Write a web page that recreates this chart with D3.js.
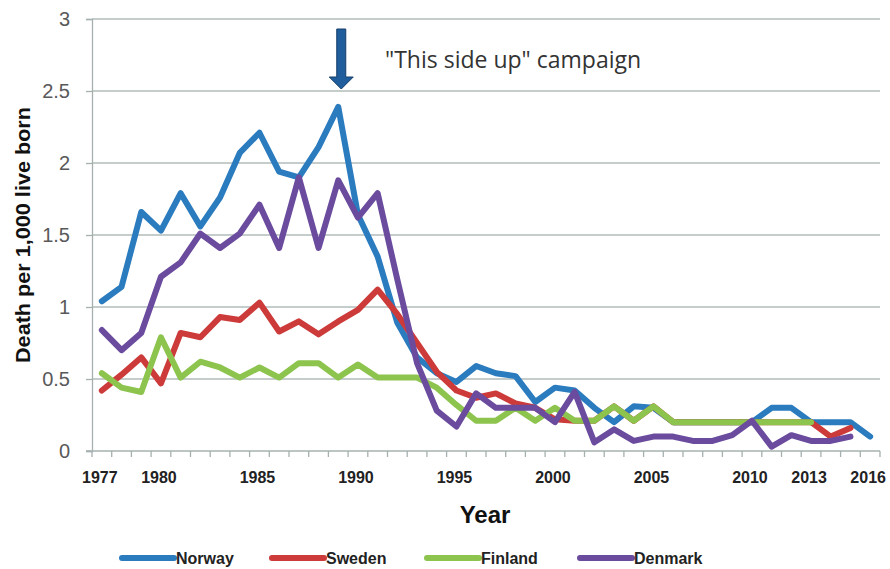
<!DOCTYPE html>
<html>
<head>
<meta charset="utf-8">
<script src="https://cdn.jsdelivr.net/npm/d3@7"></script>
<style>
  body { margin: 0; background: #ffffff; }
  svg { display: block; }
</style>
</head>
<body>
<svg id="svg"></svg>
<script>
const years = [1977, 1978, 1979, 1980, 1981, 1982, 1983, 1984, 1985, 1986,
  1987, 1988, 1989, 1990, 1991, 1992, 1993, 1994, 1995, 1996,
  1997, 1998, 1999, 2000, 2001, 2002, 2003, 2004, 2005, 2006,
  2007, 2008, 2009, 2010, 2011, 2012, 2013, 2014, 2015, 2016]
const yearLabels = [1977, 1980, 1985, 1990, 1995, 2000, 2005, 2010, 2013, 2016]
const yTicks = [0, 0.5, 1, 1.5, 2, 2.5, 3]

const norway = [1.04, 1.14, 1.66, 1.53, 1.79, 1.56, 1.76, 2.07, 2.21, 1.94,
  1.90, 2.11, 2.39, 1.64, 1.35, 0.89, 0.65, 0.54, 0.48, 0.59,
  0.54, 0.52, 0.34, 0.44, 0.42, 0.30, 0.20, 0.31, 0.30, 0.20,
  0.20, 0.20, 0.20, 0.20, 0.30, 0.30, 0.20, 0.20, 0.20, 0.10]
const sweden = [0.42, 0.53, 0.65, 0.47, 0.82, 0.79, 0.93, 0.91, 1.03, 0.83,
  0.90, 0.81, 0.90, 0.98, 1.12, 0.95, 0.75, 0.55, 0.42, 0.37,
  0.40, 0.33, 0.30, 0.22, 0.21, 0.21, 0.31, 0.21, 0.31, 0.20,
  0.20, 0.20, 0.20, 0.20, 0.20, 0.20, 0.20, 0.10, 0.16, null]
const finland = [0.54, 0.44, 0.41, 0.79, 0.51, 0.62, 0.58, 0.51, 0.58, 0.51,
  0.61, 0.61, 0.51, 0.60, 0.51, 0.51, 0.51, 0.44, 0.32, 0.21,
  0.21, 0.30, 0.21, 0.30, 0.21, 0.21, 0.31, 0.21, 0.31, 0.20,
  0.20, 0.20, 0.20, 0.20, 0.20, 0.20, 0.20, null, null, null]
const denmark = [0.84, 0.70, 0.82, 1.21, 1.31, 1.51, 1.41, 1.51, 1.71, 1.41,
  1.90, 1.41, 1.88, 1.62, 1.79, 1.19, 0.61, 0.28, 0.17, 0.40,
  0.30, 0.30, 0.30, 0.20, 0.41, 0.06, 0.15, 0.07, 0.10, 0.10,
  0.07, 0.07, 0.11, 0.21, 0.03, 0.11, 0.07, 0.07, 0.10, null]

const seriesNames = ['Norway', 'Sweden', 'Finland', 'Denmark']
const seriesValues = [norway, sweden, finland, denmark]
const seriesColors = ['#2b7bbf', '#cc3a3a', '#8cc44e', '#6a4b9e']

const width = 890
const height = 569

const svg = d3.select('#svg')
  .attr('width', width)
  .attr('height', height)
  .style('background-color', '#ffffff')

const plot = { left: 92, right: 880, top: 19, bottom: 451 }

const xScale = d3.scaleBand()
  .domain(years)
  .range([plot.left, plot.right])

const yScale = d3.scaleLinear()
  .domain([0, 3])
  .range([plot.bottom, plot.top])

const xMid = d => xScale(d) + xScale.bandwidth() / 2

// gridlines
svg.append('g')
  .selectAll('line')
  .data(yTicks.filter(d => d > 0))
  .enter()
  .append('line')
  .attr('x1', plot.left)
  .attr('x2', plot.right)
  .attr('y1', d => yScale(d))
  .attr('y2', d => yScale(d))
  .attr('stroke', '#b0bbbb')
  .attr('stroke-width', 1.3)

// y axis
const yAxis = svg.append('g')
  .attr('transform', 'translate(' + plot.left + ',0)')
  .call(d3.axisLeft(yScale).tickValues(yTicks).tickSize(6).tickPadding(16)
    .tickFormat(d => String(d)))
yAxis.select('.domain').attr('stroke', '#a6b0b0').attr('stroke-width', 1.3)
yAxis.selectAll('.tick line').attr('stroke', '#a6b0b0').attr('stroke-width', 1.3)
yAxis.selectAll('.tick text')
  .attr('font-family', 'Liberation Sans, Arial, sans-serif')
  .attr('font-size', 20)
  .attr('fill', '#595959')

// x axis: ticks at band edges, labels at band centres
const xAxisG = svg.append('g')
xAxisG.append('line')
  .attr('x1', plot.left - 6)
  .attr('x2', plot.right)
  .attr('y1', plot.bottom)
  .attr('y2', plot.bottom)
  .attr('stroke', '#a6b0b0')
  .attr('stroke-width', 1.3)
xAxisG.selectAll('line.tk')
  .data(years)
  .enter()
  .append('line')
  .attr('class', 'tk')
  .attr('x1', d => xScale(d))
  .attr('x2', d => xScale(d))
  .attr('y1', plot.bottom)
  .attr('y2', plot.bottom + 6)
  .attr('stroke', '#a6b0b0')
  .attr('stroke-width', 1.3)
xAxisG.append('line')
  .attr('x1', plot.right)
  .attr('x2', plot.right)
  .attr('y1', plot.bottom)
  .attr('y2', plot.bottom + 6)
  .attr('stroke', '#a6b0b0')
  .attr('stroke-width', 1.3)
xAxisG.selectAll('text')
  .data(yearLabels)
  .enter()
  .append('text')
  .attr('x', d => xMid(d) - 2)
  .attr('y', 483)
  .attr('text-anchor', 'middle')
  .attr('font-family', 'Liberation Sans Narrow, Liberation Sans, Arial, sans-serif')
  .attr('font-weight', 'bold')
  .attr('font-size', 16)
  .attr('fill', '#222222')
  .text(d => d)

// axis titles
svg.append('text')
  .attr('transform', 'translate(30,235) rotate(-90)')
  .attr('text-anchor', 'middle')
  .attr('font-family', 'Liberation Sans, Arial, sans-serif')
  .attr('font-weight', 'bold')
  .attr('font-size', 20)
  .attr('textLength', 256)
  .attr('lengthAdjust', 'spacingAndGlyphs')
  .attr('fill', '#111111')
  .text('Death per 1,000 live born')

svg.append('text')
  .attr('x', 485)
  .attr('y', 523)
  .attr('text-anchor', 'middle')
  .attr('font-family', 'Liberation Sans, Arial, sans-serif')
  .attr('font-weight', 'bold')
  .attr('font-size', 24)
  .attr('fill', '#111111')
  .text('Year')

// lines
const line = d3.line()
  .defined(d => d.v !== null)
  .x(d => xMid(d.year))
  .y(d => yScale(d.v))

seriesValues.forEach(function (vals, i) {
  const pts = vals.map((v, j) => ({ year: years[j], v: v }))
  svg.append('path')
    .datum(pts)
    .attr('d', line)
    .attr('fill', 'none')
    .attr('stroke', seriesColors[i])
    .attr('stroke-width', 6)
    .attr('stroke-linejoin', 'round')
    .attr('stroke-linecap', 'round')
})

// campaign arrow
const ax = xMid(1989) + 3
svg.append('path')
  .attr('d', 'M' + (ax - 4.5) + ',29 L' + (ax + 4.5) + ',29 L' + (ax + 4.5) + ',77 L' +
    (ax + 12) + ',77 L' + ax + ',89 L' + (ax - 12) + ',77 L' + (ax - 4.5) + ',77 Z')
  .attr('fill', '#1f5d9c')
  .attr('stroke', '#163f6b')
  .attr('stroke-width', 1)

svg.append('text')
  .attr('x', 385)
  .attr('y', 68)
  .attr('font-family', 'Open Sans, Liberation Sans, sans-serif')
  .attr('font-size', 23)
  .attr('fill', '#333333')
  .text('"This side up" campaign')

// legend
const legendX = [122, 272, 427, 580]
const legend = svg.append('g')
seriesNames.forEach(function (name, i) {
  legend.append('line')
    .attr('x1', legendX[i])
    .attr('x2', legendX[i] + 52)
    .attr('y1', 558)
    .attr('y2', 558)
    .attr('stroke', seriesColors[i])
    .attr('stroke-width', 6)
    .attr('stroke-linecap', 'round')
  legend.append('text')
    .attr('x', legendX[i] + 54)
    .attr('y', 564)
    .attr('font-family', 'Liberation Sans, Arial, sans-serif')
    .attr('font-weight', 'bold')
    .attr('font-size', 16)
    .attr('fill', '#222222')
    .text(name)
})
</script>
</body>
</html>
